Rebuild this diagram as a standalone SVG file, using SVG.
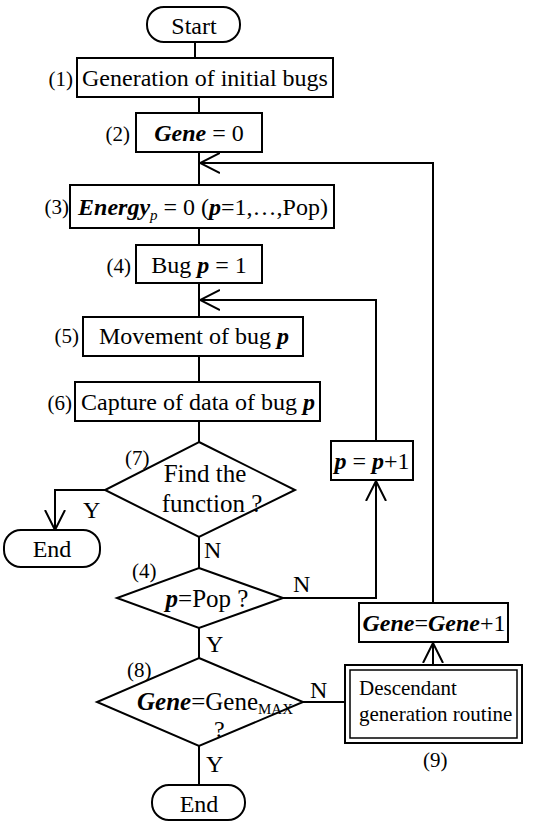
<svg xmlns="http://www.w3.org/2000/svg" width="546" height="823" viewBox="0 0 546 823">
<style>
.s{fill:none;stroke:#000;stroke-width:2}
.t{font-family:"Liberation Serif","Times New Roman",serif;font-size:24px;fill:#000}
.d{font-size:25px}
.l{font-family:"Liberation Serif","Times New Roman",serif;font-size:21px;fill:#000}
.c{text-anchor:middle}
.e{text-anchor:end}
.bi{font-weight:bold;font-style:italic}
.sub{font-size:15px}
</style>
<defs>
<marker id="ah" markerUnits="userSpaceOnUse" viewBox="0 0 20 22" refX="20" refY="11" markerWidth="20" markerHeight="22" orient="auto">
<path d="M0,1 L20,11 L0,21" fill="none" stroke="#000" stroke-width="2"/>
</marker>
</defs>
<rect width="546" height="823" fill="#fff"/>
<g id="connectors" class="s">
<path d="M195,42 V58"/>
<path d="M199,97 V113"/>
<path d="M199,152 V185"/>
<path d="M199,228 V245"/>
<path d="M199,283 V317"/>
<path d="M199,356 V382"/>
<path d="M199,421 V442"/>
<path d="M105,490 H55 V530" marker-end="url(#ah)"/>
<path d="M199,537 V568"/>
<path d="M283,598 H376 V481" marker-end="url(#ah)"/>
<path d="M376,441 V300 H200" marker-end="url(#ah)"/>
<path d="M199,628 V658"/>
<path d="M303,702 H345"/>
<path d="M433,665 V643" marker-end="url(#ah)"/>
<path d="M433,603 V163 H200" marker-end="url(#ah)"/>
<path d="M199,746 V785"/>
</g>
<g id="start">
<rect class="s" x="147" y="7" width="93" height="35" rx="17"/>
<text class="t c" x="194" y="34">Start</text>
</g>
<g id="n1">
<rect class="s" x="77" y="58" width="256" height="39"/>
<text class="l e" x="73" y="86">(1)</text>
<text class="t c" x="205" y="86">Generation of initial bugs</text>
</g>
<g id="n2">
<rect class="s" x="136" y="113" width="126" height="39"/>
<text class="l e" x="130" y="141">(2)</text>
<text class="t c" x="199" y="141"><tspan class="bi">Gene</tspan> = 0</text>
</g>
<g id="n3">
<rect class="s" x="70" y="185" width="264" height="43"/>
<text class="l e" x="69" y="214">(3)</text>
<text class="t c" x="203" y="215"><tspan class="bi">Energy</tspan><tspan class="sub" font-style="italic" dy="5">p</tspan><tspan dy="-5"> = 0 (</tspan><tspan class="bi">p</tspan>=1,…,Pop)</text>
</g>
<g id="n4">
<rect class="s" x="136" y="245" width="126" height="38"/>
<text class="l e" x="131" y="273">(4)</text>
<text class="t c" x="199" y="273">Bug <tspan class="bi">p</tspan> = 1</text>
</g>
<g id="n5">
<rect class="s" x="83" y="317" width="220" height="39"/>
<text class="l e" x="79" y="343">(5)</text>
<text class="t c" x="194" y="344">Movement of bug <tspan class="bi">p</tspan></text>
</g>
<g id="n6">
<rect class="s" x="75" y="382" width="245" height="39"/>
<text class="l e" x="72" y="410">(6)</text>
<text class="t c" x="198" y="410">Capture of data of bug <tspan class="bi">p</tspan></text>
</g>
<g id="d7">
<polygon class="s" points="199,442 295,490 199,537 105,490"/>
<text class="l" x="125" y="465">(7)</text>
<text class="t d c" x="205" y="482">Find the</text>
<text class="t d c" x="212" y="512">function ?</text>
<text class="t" x="83" y="518">Y</text>
<text class="t" x="204" y="558">N</text>
</g>
<g id="end1">
<rect class="s" x="4" y="530" width="96" height="37" rx="17"/>
<text class="t c" x="52" y="557">End</text>
</g>
<g id="d4">
<polygon class="s" points="199,568 283,598 199,628 117,598"/>
<text class="l" x="132" y="578">(4)</text>
<text class="t d c" x="207" y="607"><tspan class="bi">p</tspan>=Pop ?</text>
<text class="t" x="293" y="592">N</text>
<text class="t" x="206" y="652">Y</text>
</g>
<g id="inc">
<rect class="s" x="331" y="441" width="82" height="39"/>
<text class="t c" x="372" y="469"><tspan class="bi">p</tspan> = <tspan class="bi">p</tspan>+1</text>
</g>
<g id="geninc">
<rect class="s" x="359" y="603" width="149" height="39"/>
<text class="t c" x="434" y="631"><tspan class="bi">Gene</tspan>=<tspan class="bi">Gene</tspan>+1</text>
</g>
<g id="d8">
<polygon class="s" points="199,658 303,702 199,746 97,702"/>
<text class="l" x="127" y="677">(8)</text>
<text class="t d" x="137" y="710"><tspan class="bi">Gene</tspan>=Gene<tspan class="sub" dy="4">MAX</tspan></text>
<text class="t" x="214" y="737">?</text>
<text class="t" x="310" y="698">N</text>
<text class="t" x="206" y="772">Y</text>
</g>
<g id="n9">
<rect class="s" x="345" y="665" width="177" height="78"/>
<rect x="350" y="670" width="167" height="68" fill="none" stroke="#000" stroke-width="1.5"/>
<text class="t" x="359" y="695" style="font-size:21px">Descendant</text>
<text class="t" x="359" y="721" style="font-size:21px">generation routine</text>
<text class="l" x="423" y="767">(9)</text>
</g>
<g id="end2">
<rect class="s" x="152" y="785" width="93" height="35" rx="17"/>
<text class="t c" x="199" y="812">End</text>
</g>
</svg>
